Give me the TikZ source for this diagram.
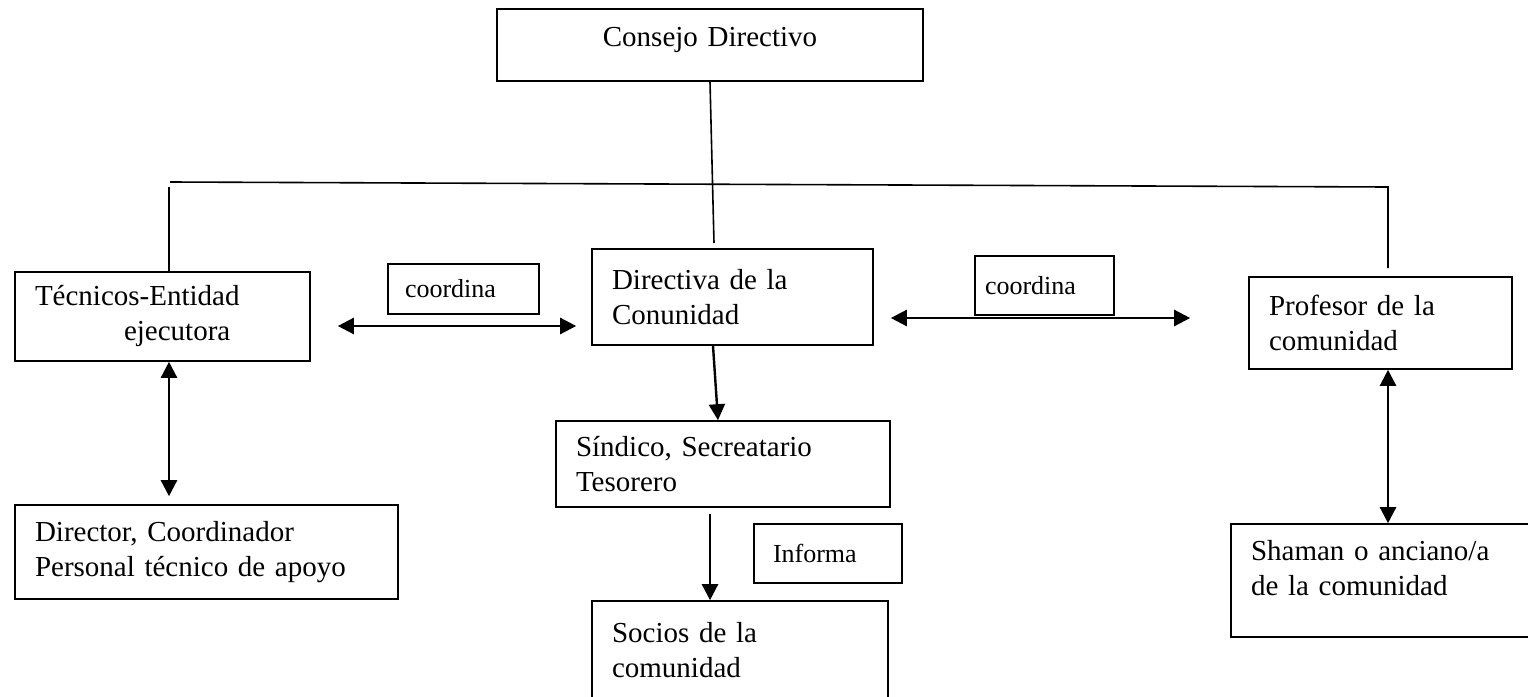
\documentclass[tikz,border=0pt]{standalone}
\usepackage{fontspec}
\setmainfont{Liberation Serif}
\usetikzlibrary{arrows.meta}

\begin{document}
\begin{tikzpicture}[x=1pt,y=-1pt,
  box/.style={draw,line width=1.6pt,align=left,inner xsep=20pt,inner ysep=0pt,font=\fontsize{29}{35}\selectfont},
  tag/.style={draw,line width=1.6pt,align=left,inner ysep=0pt,font=\fontsize{26}{30}\selectfont},
  link/.style={line width=1.6pt},
  arrow/.style={line width=2.4pt,-{Triangle[length=16pt,width=16pt]}},
  twoway/.style={line width=2.4pt,{Triangle[length=16pt,width=16pt]}-{Triangle[length=16pt,width=16pt]}}]
\useasboundingbox (0,0) rectangle (1528,696);
% Boxes
\node[box,align=center,text width=386pt,minimum height=72pt,text depth=16pt] (consejo) at (710,45) {Consejo Directivo};
\node[box,text width=255pt,minimum height=89pt] (tecnicos) at (162.5,316.5) {T\'ecnicos-Entidad\\\hspace*{89pt}ejecutora};
\node[box,text width=241pt,minimum height=96pt] (directiva) at (732.5,297) {Directiva de la\\Conunidad};
\node[box,text width=223pt,minimum height=92pt] (profesor) at (1380.5,323) {Profesor de la\\comunidad};
\node[box,text width=294pt,minimum height=86pt] (sindico) at (723,464) {S\'indico, Secreatario\\Tesorero};
\node[box,text width=256pt,minimum height=99pt] (socios) at (740,650.5) {Socios de la\\comunidad};
\node[box,text width=343pt,minimum height=94pt] (director) at (206.5,552) {Director, Coordinador\\Personal t\'ecnico de apoyo};
\node[box,text width=269pt,minimum height=113pt,text depth=60pt] (shaman) at (1385.5,580.5) {Shaman o anciano/a\\de la comunidad};
% Labels on the arrows
\node[tag,inner xsep=17pt,text width=117pt,minimum height=50pt] (coordina-left) at (463.5,289) {coordina};
\node[tag,inner xsep=10pt,text width=119pt,minimum height=59pt] (coordina-right) at (1044.5,285.5) {coordina};
\node[tag,inner xsep=19pt,text width=110pt,minimum height=59pt] (informa) at (828,553.5) {Informa};
% Draw lines from the top box
\coordinate (consejo-end) at (714,243);
\coordinate (bus-left) at (170,182);
\coordinate (bus-right) at (1388,187);
\coordinate (tec-up) at (169,187);
\coordinate (prof-up) at (1388,268);
\draw[link] (consejo.south) -- (consejo-end);
\draw[link] (bus-left) -- (bus-right) -- (prof-up);
\draw[link,line width=2.4pt] (tec-up) -- (tec-up |- tecnicos.north);
% Draw coordina arrows
\draw[twoway,shorten <=27pt,shorten >=15pt] (tecnicos.east |- 0,326) -- (directiva.west |- 0,326);
\draw[twoway,shorten <=17pt,shorten >=58pt] (directiva.east |- 0,318) -- (profesor.west |- 0,318);
% Draw arrows downwards
\draw[arrow] ([xshift=-19.5pt]directiva.south) -- ([xshift=-5pt]sindico.north);
\draw[arrow,shorten <=6pt] ([xshift=-13pt]sindico.south) -- ([xshift=-13pt]sindico.south |- socios.north);
\draw[twoway,shorten >=8pt] (tec-up |- tecnicos.south) -- (tec-up |- director.north);
\draw[twoway] (prof-up |- profesor.south) -- (prof-up |- shaman.north);
\end{tikzpicture}
\end{document}
